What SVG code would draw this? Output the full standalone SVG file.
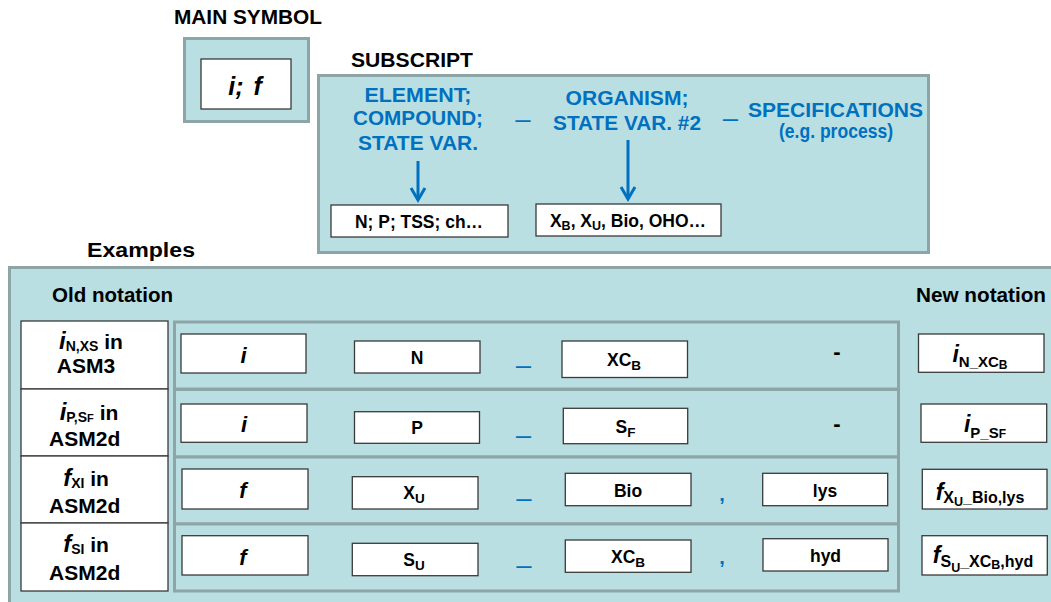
<svg xmlns="http://www.w3.org/2000/svg" width="1051" height="602" viewBox="0 0 1051 602">
<defs>
<style>
text{font-family:"Liberation Sans",Arial,sans-serif;font-weight:bold;fill:#000}
.h{font-size:20px}
.bl{font-size:20.5px;fill:#0070c0;text-anchor:middle}
.panel{fill:#b9dfe2;stroke:#8ea5a7;stroke-width:3}
.wb{fill:#fff;stroke:#3a3a3a;stroke-width:1.3}
.bt{font-size:17.5px;text-anchor:middle}
.sym{font-size:22px;font-style:italic;text-anchor:middle}
.lc{font-size:21px;text-anchor:middle}
.us{font-weight:normal;font-size:26px;fill:#0070c0;text-anchor:middle}
.cm{font-size:20px;fill:#0070c0;text-anchor:middle}
.hy{font-size:22px;text-anchor:middle}
.nn{text-anchor:middle}
.arr{stroke:#0070c0;stroke-width:3;fill:none}
</style>
<marker id="ah" markerUnits="userSpaceOnUse" viewBox="-16 -10 20 20" markerWidth="20" markerHeight="20" refX="0" refY="0" orient="auto">
<path d="M-12,-7 L0,0 L-12,7" fill="none" stroke="#0070c0" stroke-width="3"/>
</marker>
</defs>
<rect width="1051" height="602" fill="#fff"/>

<g id="main-symbol">
<text class="h" x="174" y="24" textLength="148" lengthAdjust="spacingAndGlyphs">MAIN SYMBOL</text>
<rect class="panel" x="184.5" y="38.5" width="124" height="83"/>
<rect class="wb" x="201" y="59" width="90" height="50"/>
<text x="245" y="95" font-size="25" font-style="italic" text-anchor="middle" word-spacing="3">i; f</text>
</g>

<g id="subscript">
<text class="h" x="351" y="66.5" textLength="122" lengthAdjust="spacingAndGlyphs">SUBSCRIPT</text>
<rect class="panel" x="318.5" y="75.5" width="610" height="177"/>
<text class="bl" x="418" y="101.5" textLength="107" lengthAdjust="spacingAndGlyphs">ELEMENT;</text>
<text class="bl" x="418" y="125" textLength="130" lengthAdjust="spacingAndGlyphs">COMPOUND;</text>
<text class="bl" x="418" y="149.5" textLength="120" lengthAdjust="spacingAndGlyphs">STATE VAR.</text>
<text class="us" x="523" y="117">_</text>
<text class="bl" x="627" y="105" textLength="123" lengthAdjust="spacingAndGlyphs">ORGANISM;</text>
<text class="bl" x="627" y="130" textLength="148" lengthAdjust="spacingAndGlyphs">STATE VAR. #2</text>
<text class="us" x="730.5" y="116">_</text>
<text class="bl" x="835.5" y="116.5" textLength="175" lengthAdjust="spacingAndGlyphs">SPECIFICATIONS</text>
<text class="bl" x="836" y="138" font-size="16.5" textLength="114" lengthAdjust="spacingAndGlyphs">(e.g. process)</text>
</g>
<g id="box-element-examples">
<rect class="wb" x="331" y="205" width="177" height="32"/>
<text class="bt" x="419" y="227.5" textLength="128" lengthAdjust="spacingAndGlyphs">N; P; TSS; ch…</text>
</g>
<g id="box-organism-examples">
<rect class="wb" x="536" y="204" width="185" height="32"/>
<text class="bt" x="628" y="226.5">X<tspan font-size="12.5" dy="3.5">B</tspan><tspan dy="-3.5">, X</tspan><tspan font-size="12.5" dy="3.5">U</tspan><tspan dy="-3.5">, Bio, OHO…</tspan></text>
</g>

<g id="connectors">
<line class="arr" x1="418" y1="161" x2="418" y2="200" marker-end="url(#ah)"/>
<line class="arr" x1="628" y1="140" x2="628" y2="199" marker-end="url(#ah)"/>
</g>

<g id="examples">
<text class="h" x="87" y="257" font-size="21.5" textLength="108" lengthAdjust="spacingAndGlyphs">Examples</text>
<rect class="panel" x="9.5" y="267.5" width="1060" height="360"/>
<text class="h" x="52" y="301.7" textLength="121" lengthAdjust="spacingAndGlyphs">Old notation</text>
<text class="h" x="916" y="301.7" textLength="130" lengthAdjust="spacingAndGlyphs">New notation</text>
</g>

<g id="row-asm3">
<rect class="wb" x="21" y="321" width="147" height="68"/>
<text class="lc" x="91" y="349"><tspan font-size="24" font-style="italic">i</tspan><tspan font-size="14" dy="2">N,XS</tspan><tspan dy="-2"> in</tspan></text>
<text class="lc" x="86" y="372.5">ASM3</text>
<rect class="panel" x="174.5" y="322" width="724" height="67"/>
<rect class="wb" x="181" y="334" width="125" height="39"/>
<text class="sym" x="243.5" y="362.5">i</text>
<rect class="wb" x="354.5" y="341" width="125.5" height="32"/>
<text class="bt" x="417" y="363.5">N</text>
<text class="us" x="523.5" y="362.7">_</text>
<rect class="wb" x="562" y="341" width="125.5" height="36.5"/>
<text class="bt" x="624" y="365.5">XC<tspan font-size="13.5" dy="4">B</tspan></text>
<text class="hy" x="837" y="358.5">-</text>
<rect class="wb" x="918.5" y="334" width="125.5" height="38.3"/>
<text class="nn" x="980" y="361.7"><tspan font-size="23" font-style="italic">i</tspan><tspan font-size="15" dy="5">N_XC</tspan><tspan font-size="12" dy="2.5">B</tspan></text>
</g>

<g id="row-asm2d-ip">
<rect class="wb" x="21" y="389" width="147" height="67"/>
<text class="lc" x="89" y="419.5"><tspan font-size="24" font-style="italic">i</tspan><tspan font-size="14" dy="2">P,S</tspan><tspan font-size="11">F</tspan><tspan dy="-2"> in</tspan></text>
<text class="lc" x="84.7" y="446">ASM2d</text>
<rect class="panel" x="174.5" y="389.5" width="724" height="67.5"/>
<rect class="wb" x="181" y="404" width="126" height="38.3"/>
<text class="sym" x="244" y="431.7">i</text>
<rect class="wb" x="354.5" y="411.7" width="125" height="31.6"/>
<text class="bt" x="417" y="434">P</text>
<text class="us" x="523.5" y="432.7">_</text>
<rect class="wb" x="563.3" y="408.3" width="124.4" height="35.4"/>
<text class="bt" x="625.5" y="433.3">S<tspan font-size="13.5" dy="4">F</tspan></text>
<text class="hy" x="837" y="430.5">-</text>
<rect class="wb" x="921" y="404" width="125.7" height="38.3"/>
<text class="nn" x="985" y="431.7"><tspan font-size="23" font-style="italic">i</tspan><tspan font-size="15" dy="6">P_S</tspan><tspan font-size="12">F</tspan></text>
</g>

<g id="row-asm2d-fxi">
<rect class="wb" x="21" y="456" width="147" height="67"/>
<text class="lc" x="86" y="485.5"><tspan font-size="24" font-style="italic">f</tspan><tspan font-size="14" dy="2">XI</tspan><tspan dy="-2"> in</tspan></text>
<text class="lc" x="84.7" y="512.5">ASM2d</text>
<rect class="panel" x="174.5" y="457" width="724" height="67"/>
<rect class="wb" x="182" y="469" width="126" height="40"/>
<text class="sym" x="243" y="498.3">f</text>
<rect class="wb" x="352.3" y="476.7" width="125.7" height="32.3"/>
<text class="bt" x="414" y="499">X<tspan font-size="13.5" dy="4">U</tspan></text>
<text class="us" x="524" y="495.7">_</text>
<rect class="wb" x="565.3" y="473.3" width="125.7" height="32.4"/>
<text class="bt" x="628" y="496.7">Bio</text>
<text class="cm" x="722" y="501">,</text>
<rect class="wb" x="762.7" y="473.3" width="125" height="32.4"/>
<text class="bt" x="825" y="496.7">lys</text>
<rect class="wb" x="922.3" y="469.3" width="124.7" height="39.7"/>
<text class="nn" x="980" y="500"><tspan font-size="23" font-style="italic">f</tspan><tspan font-size="16" dy="2.5">X</tspan><tspan font-size="12.5" dy="3.5">U</tspan><tspan font-size="16" dy="-3.5">_Bio,lys</tspan></text>
</g>

<g id="row-asm2d-fsi">
<rect class="wb" x="21" y="523" width="147" height="68"/>
<text class="lc" x="86" y="552.2"><tspan font-size="24" font-style="italic">f</tspan><tspan font-size="14" dy="2">SI</tspan><tspan dy="-2"> in</tspan></text>
<text class="lc" x="84.7" y="579.5">ASM2d</text>
<rect class="panel" x="174.5" y="524" width="724" height="67"/>
<rect class="wb" x="182" y="535.7" width="126" height="39.3"/>
<text class="sym" x="243" y="565">f</text>
<rect class="wb" x="352.3" y="543.3" width="125.7" height="32.4"/>
<text class="bt" x="414" y="565.7">S<tspan font-size="13.5" dy="4">U</tspan></text>
<text class="us" x="524" y="562.7">_</text>
<rect class="wb" x="565.3" y="540" width="125.7" height="32.3"/>
<text class="bt" x="628" y="563.3">XC<tspan font-size="13.5" dy="4">B</tspan></text>
<text class="cm" x="722" y="564">,</text>
<rect class="wb" x="763" y="538.7" width="125" height="32.3"/>
<text class="bt" x="825.5" y="561.7">hyd</text>
<rect class="wb" x="922" y="535.7" width="125.3" height="39.3"/>
<text class="nn" x="983" y="563.3"><tspan font-size="23" font-style="italic">f</tspan><tspan font-size="16" dy="3.5">S</tspan><tspan font-size="12.5" dy="5">U</tspan><tspan font-size="16" dy="-5">_XC</tspan><tspan font-size="12.5" dy="2.5">B</tspan><tspan font-size="16" dy="-2.5">,hyd</tspan></text>
</g>
</svg>
